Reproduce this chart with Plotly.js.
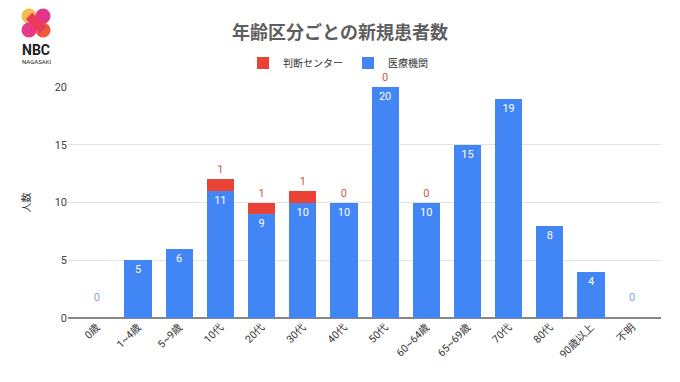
<!DOCTYPE html>
<html><head><meta charset="utf-8">
<script src="https://cdn.plot.ly/plotly-3.0.1.min.js"></script>
<style>html,body{margin:0;padding:0;background:#fff}#c{width:680px;height:382px}</style>
</head><body><div id="c"></div>
<script>
const categories = ["0歳","1~4歳","5~9歳","10代","20代","30代","40代","50代","60~64歳","65~69歳","70代","80代","90歳以上","不明"];
const iryoKikan = [0,5,6,11,9,10,10,20,10,15,19,8,4,0];
const handanCenter = [null,null,null,1,1,1,0,0,0,null,null,null,null,null];
const seriesNames = ["判断センター","医療機関"];
const titleText = "年齢区分ごとの新規患者数";
const yTitle = "人数";
const yTicks = [0,5,10,15,20];

const font = "Roboto, 'Noto Sans CJK JP', sans-serif";
const blue = "#4285F4", red = "#EA4335";

const zeroX = [], zeroY = [], zeroT = [];
iryoKikan.forEach((v,i)=>{ if(v===0){ zeroX.push(categories[i]); zeroY.push(0); zeroT.push(String(v)); } });

const traces = [
 {type:"bar", name:seriesNames[1], x:categories, y:iryoKikan, marker:{color:blue}, width:0.66,
  text:iryoKikan.map(v=>v>0?String(v):""), textposition:"inside", insidetextanchor:"end",
  textfont:{color:"#fff", size:11, family:font}, constraintext:"none", showlegend:false, hoverinfo:"skip"},
 {type:"bar", name:seriesNames[0], x:categories, y:handanCenter, marker:{color:red}, width:0.66,
  text:handanCenter.map(v=>v===null?"":String(v)), textposition:"outside",
  textfont:{color:"#d2554b", size:11, family:font}, cliponaxis:false, constraintext:"none", showlegend:true},
 {type:"bar", name:seriesNames[1], x:[categories[0]], y:[null], marker:{color:blue}, showlegend:true},
 {type:"scatter", mode:"text+markers", x:zeroX, y:zeroY, text:zeroT, textposition:"top center",
  marker:{size:22, opacity:0}, textfont:{color:"#7fa6ea", size:11, family:font}, showlegend:false, cliponaxis:false}
];

const pw = 680-68-19, ph = 382-87-64;
function px(x){return (x-68)/pw;} function py(y){return (382-64-y)/ph;}
function circ(cx,cy,r,col){return {type:"circle", xref:"paper", yref:"paper", x0:px(cx-r), x1:px(cx+r), y0:py(cy+r), y1:py(cy-r), fillcolor:col, line:{width:0}, opacity:0.92, layer:"above"};}

const layout = {
 width:680, height:382,
 margin:{l:68, r:19, t:87, b:64},
 paper_bgcolor:"#fff", plot_bgcolor:"#fff",
 barmode:"stack",
 font:{family:font, color:"#444"},
 title:{text:titleText, x:0.5, xanchor:"center", y:0.915, yanchor:"middle",
   font:{size:18, color:"#5f5f5f", family:font, weight:"bold"}},
 legend:{orientation:"h", x:px(338), xanchor:"center", y:py(63), yanchor:"middle", traceorder:"normal",
   bgcolor:"rgba(0,0,0,0)", font:{size:10, color:"#333", family:font}, itemwidth:30},
 xaxis:{type:"category", range:[-0.7,13.7], tickangle:-45, tickfont:{size:10.5, color:"#333", family:font},
   showgrid:false, showline:false, zeroline:false, ticks:"", automargin:false},
 yaxis:{range:[0,20], tickvals:yTicks, tickfont:{size:11, color:"#444", family:font},
   gridcolor:"#e3e3e3", zeroline:true, zerolinecolor:"#888", zerolinewidth:1.3, ticks:"", ticklen:0,
   title:{text:yTitle, font:{size:10, color:"#333", family:font}, standoff:22}, automargin:false},
 showlegend:true,
 shapes:[
  circ(29,16,7.5,"#f7b53c"), circ(43,16,7.5,"#e2237e"), circ(29,30,7.5,"#e5287c"), circ(43,30,7.5,"#ef4a2a"),
  {type:"path", xref:"paper", yref:"paper", path:`M ${px(29)} ${py(16)} L ${px(43)} ${py(30)}`, line:{color:"#ea3a5a", width:9}, layer:"above"}
 ],
 annotations:[
  {xref:"paper", yref:"paper", x:px(36), y:py(50), xanchor:"center", yanchor:"middle", text:"<b>NBC</b>",
   showarrow:false, font:{size:14, color:"#222", family:"Roboto, sans-serif"}},
  {xref:"paper", yref:"paper", x:px(36), y:py(61), xanchor:"center", yanchor:"middle", text:"NAGASAKI",
   showarrow:false, font:{size:6, color:"#222", family:"Roboto, sans-serif"}}
 ]
};

Plotly.newPlot("c", traces, layout, {displayModeBar:false, staticPlot:true});
</script></body></html>
